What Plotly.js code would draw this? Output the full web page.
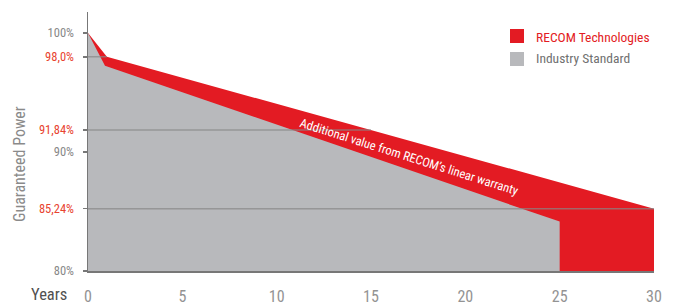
<!DOCTYPE html>
<html>
<head>
<meta charset="utf-8">
<script src="https://cdn.plot.ly/plotly-3.0.1.min.js"></script>
<style>html,body{margin:0;padding:0;background:#fff;}#chart{width:677px;height:305px;}</style>
</head>
<body>
<div id="chart"></div>
<script>
// Data
var recomYears = [0, 1, 30];
var recomPower = [100, 98.0, 85.24];
var industryYears = [0, 0.9, 25];
var industryPower = [100, 97.25, 84.15];
var guideYears = [1, 15, 30];
var guideValues = [98.0, 91.84, 85.24];
var yTickVals = [80, 85.24, 90, 91.84, 98.0, 100];
var yTickText = ['80%', '85,24%', '90%', '91,84%', '98,0%', '100%'];
var yTickRed = [false, true, false, true, true, false];
var xTickVals = [0, 5, 10, 15, 20, 25, 30];
var seriesNames = ['RECOM Technologies', 'Industry Standard'];

var RED = '#e31b23';
var GRAY = '#b8b9bc';
var FONT = '"Roboto Condensed", "Liberation Sans Narrow", "DejaVu Sans Condensed", sans-serif';

var traces = [
  {x: recomYears, y: recomPower, type: 'scatter', mode: 'lines', line: {width: 0, color: RED},
   fill: 'tozeroy', fillcolor: RED, name: seriesNames[0], showlegend: false, hoverinfo: 'skip'},
  {x: industryYears, y: industryPower, type: 'scatter', mode: 'lines', line: {width: 0, color: GRAY},
   fill: 'tozeroy', fillcolor: GRAY, name: seriesNames[1], showlegend: false, hoverinfo: 'skip'}
];
guideYears.forEach(function (yr, i) {
  traces.push({x: [0, yr], y: [guideValues[i], guideValues[i]], type: 'scatter', mode: 'lines',
    line: {color: 'rgba(135,135,135,0.7)', width: 1.5}, showlegend: false, hoverinfo: 'skip'});
});

var tickText = yTickText.map(function (t, i) {
  return yTickRed[i] ? '<span style="color:#e8432f">' + t + '</span>' : t;
});

var layout = {
  width: 677, height: 305,
  margin: {l: 88, r: 23, t: 12, b: 34},
  paper_bgcolor: '#fff', plot_bgcolor: '#fff',
  showlegend: false,
  font: {family: FONT, color: '#888'},
  xaxis: {
    range: [0, 30], tickvals: xTickVals, ticks: '', showgrid: false, zeroline: false,
    showline: true, linecolor: '#777', linewidth: 1.5,
    tickfont: {size: 16, color: '#939393', family: FONT}, ticklabelstandoff: 10
  },
  yaxis: {
    range: [80, 101.76], tickvals: yTickVals, ticktext: tickText, ticks: 'outside', ticklen: 4,
    tickcolor: '#777', tickwidth: 1.5, showgrid: false, zeroline: false,
    showline: true, linecolor: '#777', linewidth: 1.5,
    tickfont: {size: 12.5, color: '#888', family: FONT}, ticklabelstandoff: 6
  },
  shapes: [
    {type: 'rect', xref: 'paper', yref: 'paper', x0: (510 - 88) / 566, x1: (524 - 88) / 566,
     y0: (271 - 43) / 259, y1: (271 - 29) / 259, fillcolor: RED, line: {width: 0}},
    {type: 'rect', xref: 'paper', yref: 'paper', x0: (510 - 88) / 566, x1: (524 - 88) / 566,
     y0: (271 - 66) / 259, y1: (271 - 52) / 259, fillcolor: GRAY, line: {width: 0}}
  ],
  annotations: [
    {xref: 'paper', yref: 'paper', x: (534 - 88) / 566, y: (271 - 36.5) / 259, xanchor: 'left', yanchor: 'middle',
     text: seriesNames[0], showarrow: false, font: {size: 13.5, color: RED, family: FONT}},
    {xref: 'paper', yref: 'paper', x: (534 - 88) / 566, y: (271 - 58.5) / 259, xanchor: 'left', yanchor: 'middle',
     text: seriesNames[1], showarrow: false, font: {size: 13.5, color: '#707070', family: FONT}},
    {xref: 'x', yref: 'y', x: 17.0, y: 89.6, text: 'Additional value from RECOM’s linear warranty',
     textangle: 17.5, showarrow: false, font: {size: 12.5, color: '#fff', family: FONT}},
    {xref: 'paper', yref: 'paper', x: (20 - 88) / 566, y: (271 - 164) / 259, xanchor: 'center', yanchor: 'middle',
     text: 'Guaranteed Power', textangle: -90, showarrow: false, font: {size: 16, color: '#8a8a8a', family: FONT}},
    {xref: 'paper', yref: 'paper', x: (49 - 88) / 566, y: (271 - 294) / 259, xanchor: 'center', yanchor: 'middle',
     text: 'Years', showarrow: false, font: {size: 16.5, color: '#505050', family: FONT}}
  ]
};

Plotly.newPlot('chart', traces, layout, {displayModeBar: false, staticPlot: true});
</script>
</body>
</html>
